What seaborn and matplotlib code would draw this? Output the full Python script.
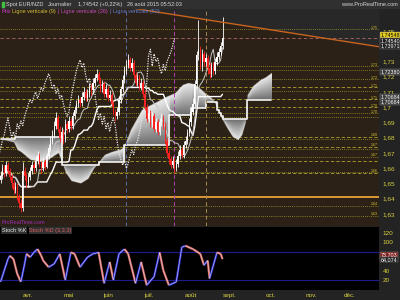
import numpy as np
import pandas as pd
import matplotlib
matplotlib.use("Agg")
import matplotlib.pyplot as plt
import matplotlib.transforms as mtrans
from matplotlib.collections import LineCollection
import seaborn as sns

sns.set_style("dark")
plt.rcParams['font.family'] = ['Liberation Sans Narrow', 'Liberation Sans', 'DejaVu Sans']

# ---------------- data ----------------
first_open = 1.652
close = [1.655, 1.660, 1.657, 1.662, 1.658, 1.654, 1.650, 1.646, 1.648, 1.641,
         1.637, 1.634, 1.658, 1.655, 1.650, 1.654, 1.658, 1.662, 1.660, 1.665,
         1.668, 1.663, 1.660, 1.664, 1.661, 1.668, 1.673, 1.678, 1.682, 1.688,
         1.693, 1.686, 1.680, 1.684, 1.679, 1.689, 1.686, 1.691, 1.688, 1.694,
         1.698, 1.702, 1.705, 1.703, 1.707, 1.710, 1.706, 1.709, 1.713, 1.711,
         1.716, 1.719, 1.722, 1.718, 1.712, 1.715, 1.709, 1.712, 1.706, 1.708,
         1.702, 1.697, 1.694, 1.697, 1.705, 1.712, 1.718, 1.724, 1.728, 1.731,
         1.726, 1.729, 1.721, 1.716, 1.719, 1.713, 1.716, 1.709, 1.700, 1.692,
         1.696, 1.689, 1.694, 1.686, 1.690, 1.684, 1.690, 1.693, 1.688, 1.678,
         1.670, 1.666, 1.662, 1.665, 1.660, 1.663, 1.668, 1.672, 1.669, 1.675,
         1.678, 1.683, 1.690, 1.697, 1.702, 1.715, 1.734, 1.738, 1.727, 1.735,
         1.730, 1.732, 1.726, 1.722, 1.728, 1.724, 1.730, 1.733, 1.736, 1.740,
         1.7454]
high = [1.658, 1.663, 1.662, 1.665, 1.664, 1.660, 1.656, 1.652, 1.651, 1.650,
        1.643, 1.640, 1.664, 1.661, 1.657, 1.657, 1.661, 1.665, 1.664, 1.668,
        1.671, 1.670, 1.665, 1.667, 1.666, 1.670, 1.676, 1.681, 1.685, 1.691,
        1.697, 1.695, 1.688, 1.687, 1.686, 1.692, 1.691, 1.694, 1.693, 1.697,
        1.701, 1.705, 1.708, 1.707, 1.710, 1.713, 1.712, 1.712, 1.716, 1.715,
        1.719, 1.722, 1.725, 1.724, 1.720, 1.718, 1.717, 1.715, 1.714, 1.711,
        1.710, 1.704, 1.699, 1.700, 1.707, 1.714, 1.721, 1.727, 1.731, 1.735,
        1.733, 1.732, 1.731, 1.723, 1.722, 1.721, 1.719, 1.718, 1.711, 1.702,
        1.699, 1.698, 1.697, 1.696, 1.693, 1.692, 1.693, 1.696, 1.695, 1.690,
        1.680, 1.672, 1.668, 1.668, 1.667, 1.666, 1.671, 1.675, 1.674, 1.678,
        1.681, 1.686, 1.693, 1.700, 1.706, 1.718, 1.737, 1.757, 1.740, 1.738,
        1.737, 1.735, 1.734, 1.729, 1.730, 1.730, 1.732, 1.736, 1.739, 1.743,
        1.759]
low = [1.650, 1.653, 1.654, 1.655, 1.656, 1.652, 1.647, 1.643, 1.644, 1.639,
       1.634, 1.631, 1.632, 1.652, 1.647, 1.648, 1.652, 1.656, 1.657, 1.658,
       1.663, 1.661, 1.657, 1.658, 1.659, 1.660, 1.666, 1.671, 1.676, 1.680,
       1.686, 1.684, 1.677, 1.678, 1.676, 1.677, 1.683, 1.684, 1.685, 1.686,
       1.692, 1.696, 1.700, 1.700, 1.701, 1.705, 1.704, 1.704, 1.707, 1.708,
       1.709, 1.714, 1.717, 1.716, 1.710, 1.710, 1.707, 1.707, 1.704, 1.704,
       1.700, 1.695, 1.691, 1.692, 1.695, 1.703, 1.710, 1.716, 1.722, 1.726,
       1.724, 1.724, 1.719, 1.714, 1.714, 1.711, 1.711, 1.707, 1.698, 1.690,
       1.690, 1.687, 1.687, 1.684, 1.684, 1.682, 1.682, 1.688, 1.686, 1.676,
       1.668, 1.663, 1.660, 1.660, 1.657, 1.658, 1.661, 1.666, 1.667, 1.667,
       1.673, 1.676, 1.681, 1.688, 1.695, 1.700, 1.713, 1.731, 1.725, 1.724,
       1.727, 1.727, 1.722, 1.719, 1.720, 1.721, 1.722, 1.728, 1.731, 1.734,
       1.738]

# Ichimoku cloud spans (bar index, price)
span_a_bar = [0, 7, 9, 11, 16, 22, 27, 31, 33, 35, 38, 43, 47, 50, 53, 56, 60, 64,
              66, 68, 70, 73, 76, 79, 84, 89, 94, 98, 101, 104, 107, 110, 113,
              115, 117, 119, 122, 125, 128, 130, 132, 133, 136, 140, 143, 146]
span_a = [1.679, 1.677, 1.672, 1.6705, 1.6654, 1.6641, 1.6667, 1.670, 1.664,
          1.657, 1.6516, 1.650, 1.653, 1.6595, 1.6641, 1.6687, 1.6707, 1.672,
          1.6733, 1.6785, 1.685, 1.6916, 1.6982, 1.7002, 1.7034, 1.7067, 1.7093,
          1.7146, 1.7159, 1.7152, 1.7126, 1.7093, 1.7067, 1.7040, 1.6990, 1.693,
          1.6864, 1.6805, 1.6785, 1.6818, 1.6903, 1.708, 1.7139, 1.7179, 1.7198,
          1.7225]
span_b_bar = [0, 8, 33, 53, 67, 91, 103, 111, 117, 118, 119, 120, 133, 146]
span_b = [1.679, 1.6805, 1.6621, 1.6641, 1.6752, 1.6949, 1.6995, 1.7035, 1.6985,
          1.6960, 1.6940, 1.6923, 1.7048, 1.7048]

# user drawn levels
levels_dotted = [1.7511, 1.7270, 1.7244, 1.7183, 1.7109, 1.6960, 1.6938, 1.6790,
                 1.6726, 1.6674, 1.6573, 1.6352, 1.6287]
levels_dashed = [1.7131, 1.7052, 1.6999, 1.6805, 1.6741, 1.6648, 1.6569]
level_price = 1.7452
level_support = 1.6413
trend_bar = [66, 204.6]
trend_price = [1.7660, 1.7397]
vline_offsets = [9, 26, 52]

# stochastic (bar index, value)
stoch_bar = [0, 4, 5, 7, 9, 11, 13, 14, 16, 18, 20, 22, 23, 26, 29, 32, 35, 38, 40,
             43, 47, 50, 53, 56, 59, 61, 64, 67, 69, 73, 76, 79, 83, 86, 88, 91,
             95, 98, 100, 104, 108, 110, 112, 113, 117, 119, 120]
stoch_k = [17, 65, 72, 65, 34, 17, 55, 76, 69, 79, 86, 72, 62, 48, 55, 76, 21, 79,
           76, 48, 69, 76, 79, 14, 59, 21, 76, 86, 76, 14, 59, 10, 28, 79, 41, 10,
           17, 90, 93, 86, 76, 52, 62, 24, 79, 76, 65]

price_ticks = [1.75, 1.73, 1.72, 1.71, 1.70, 1.69, 1.68, 1.67, 1.66, 1.65, 1.64, 1.63]
price_tick_labels = ["1,75", "1,73", "1,72", "1,71", "1,7", "1,69", "1,68", "1,67",
                     "1,66", "1,65", "1,64", "1,63"]
stoch_ticks = [120, 100, 40, 20]
month_labels = ["avr.", "mai", "juin", "juil.", "août", "sept.", "oct.", "nov.", "déc."]
price_tags = [(1.7474, "1,74548", "#e8d020", "#000000"),
              (1.7436, "1,74540", "#1e1e1e", "#ffffff"),
              (1.7402, "1,73971", "#1e1e1e", "#ffffff"),
              (1.7231, "1,72380", "#3a3a3a", "#ffffff"),
              (1.7068, "1,70684", "#3a3a3a", "#ffffff"),
              (1.7035, "1,70684", "#3a3a3a", "#ffffff")]
stoch_tags = [(73.7, "73,703", "#802020", "#ffffff"),
              (64.1, "64,074", "#1e1e1e", "#ffffff")]
title_parts = [("Spot EUR/NZD", "#d8d8d8"), ("Journalier", "#d8d8d8"),
               ("1,74542 (+0,22%)", "#d8d8d8"), ("26 août 2015 05:52:03", "#d8d8d8")]
legend_parts = [("Prix", "#d040d0"), ("Ligne verticale (9)", "#d0c040"),
                ("| Ligne verticale (26)", "#c050c0"), ("| Ligne verticale (52)", "#6080d8")]

# ---------------- derived frame ----------------
dates = pd.bdate_range("2015-03-11", "2015-12-31")
n = len(close)
df = pd.DataFrame({"bar": np.arange(n), "close": close, "high": high, "low": low})
df["open"] = [first_open] + close[:-1]
df["tenkan"] = (df["high"].rolling(9, min_periods=1).max() + df["low"].rolling(9, min_periods=1).min()) / 2
df["kijun"] = (df["high"].rolling(26, min_periods=1).max() + df["low"].rolling(26, min_periods=1).min()) / 2
chikou = pd.DataFrame({"bar": df["bar"] - 26, "p": df["close"]})

# ---------------- figure ----------------
W, H = 400, 300
fig = plt.figure(figsize=(4, 3), dpi=100, facecolor="#232323")


def rect(x0, y0, x1, y1):
    return [x0 / W, 1 - y1 / H, (x1 - x0) / W, (y1 - y0) / H]


ax = fig.add_axes(rect(0, 8, 379, 226))
ax2 = fig.add_axes(rect(0, 227, 379, 290), sharex=ax)
ylo, yhi = 1.6221, 1.7651
xlo, xhi = -0.3, 204.6
ax.set_xlim(xlo, xhi)
ax.set_ylim(ylo, yhi)
ax.set_facecolor("#2c2116")
ax.grid(False)
for s in ax.spines.values():
    s.set_visible(False)

# gray zone above trend line
tk = np.array(trend_bar)
tp = np.array(trend_price)
ax.fill_between(tk, tp, yhi + 0.01, color="#282828", zorder=0.5, lw=0)
ax.plot(tk, tp, color="#c8641e", lw=1.0, zorder=6)

# levels
for p in levels_dotted:
    ax.axhline(p, color="#a09828", lw=0.6, ls=(0, (1, 1.5)), zorder=1)
for p in levels_dashed:
    ax.axhline(p, color="#b0a42a", lw=0.6, ls=(0, (4, 2.5)), zorder=1)
ax.axhline(level_price, color="#b06868", lw=0.6, ls=(0, (4, 3)), zorder=1)
ax.axhline(level_support, color="#e8a038", lw=1.3, zorder=2)
# little level markers at the right inner edge (skip ones that would collide)
ytr = mtrans.blended_transform_factory(ax.transAxes, ax.transData)
prev = None
for p in sorted(levels_dotted + levels_dashed, reverse=True):
    if prev is not None and prev - p < 0.0032:
        continue
    ax.text(0.997, p, ("%.2f" % p).replace(".", ","), transform=ytr,
            fontsize=2.6, color="#d8c830", ha="right", va="bottom", zorder=7)
    prev = p

# cloud with gradient
kk = np.linspace(0, max(span_a_bar), 900)
pp = np.linspace(ylo, yhi, 700)
A = np.interp(kk, span_a_bar, span_a)
idx = np.searchsorted(span_b_bar, kk, side="right") - 1
B = np.array(span_b)[idx]
KK, PP = np.meshgrid(kk, pp)
AA = np.broadcast_to(A, KK.shape)
BB = np.broadcast_to(B, KK.shape)
inside = (PP >= np.minimum(AA, BB)) & (PP <= np.maximum(AA, BB))
den = np.where(np.abs(AA - BB) < 1e-6, 1e-6, AA - BB)
t = np.clip((PP - BB) / den, 0, 1)
g = 0.42 + 0.5 * t
img = np.zeros(KK.shape + (4,))
img[..., 0] = g
img[..., 1] = g
img[..., 2] = g
img[..., 3] = inside.astype(float)
ax.imshow(img, extent=[kk[0], kk[-1], ylo, yhi], origin="lower", aspect="auto",
          interpolation="bilinear", zorder=2)
ax.step(span_b_bar, span_b, where="post", color="#f4f4f4", lw=1.2, zorder=3)

# vertical lines
last = n - 1
for off, col in zip(vline_offsets, ["#a88a50", "#b040b0", "#5a6ea8"]):
    ax.axvline(last - off, color=col, lw=0.7, ls=(0, (4, 3)), zorder=3)

# ichimoku lines
sns.lineplot(data=df, x="bar", y="kijun", ax=ax, color="#ffffff", lw=1.0, zorder=4)
sns.lineplot(data=df, x="bar", y="tenkan", ax=ax, color="#c8c8c8", lw=0.7, zorder=4)
sns.lineplot(data=chikou, x="bar", y="p", ax=ax, color="#e8e8e8", lw=0.9,
             ls=(0, (1, 1)), zorder=4)

# candles
up = df["close"] >= df["open"]
colors = np.where(up, "#ffffff", "#ff2020")
ax.vlines(df["bar"], df["low"], df["high"], colors=colors, lw=0.6, zorder=5)
body = (df["close"] - df["open"]).where(lambda s: s.abs() > 0.0006, 0.0006)
ax.bar(df["bar"], body, bottom=df["open"], width=0.72, color=colors, lw=0, zorder=5)

ax.set_xlabel("")
ax.set_ylabel("")
ax.yaxis.tick_right()
ax.set_yticks(price_ticks)
ax.set_yticklabels(price_tick_labels)
ax.tick_params(axis="y", length=0, pad=2.5, labelsize=4.6, labelcolor="#d8d040")
ax.tick_params(axis="x", bottom=False, labelbottom=False)

for p, s, bg, fg in price_tags:
    ax.text(1.004, p, s, transform=ytr, fontsize=3.9, color=fg, va="center", ha="left",
            bbox=dict(boxstyle="square,pad=0.08", fc=bg, ec="#888888", lw=0.3), zorder=10,
            clip_on=False)

ax.text(0.004, 0.004, "ProRealTime.com", transform=ax.transAxes, fontsize=4.0,
        color="#a030b0", va="bottom", ha="left")

fig.patches.append(plt.Rectangle((0, 1 - 8 / H), 1, 8 / H, transform=fig.transFigure,
                                 color="#303030", zorder=0))
fig.patches.append(plt.Rectangle((2 / W, 1 - 7 / H), 2 / W, 5 / H, transform=fig.transFigure,
                                 color="#40c040", zorder=1))
fig.text(398 / W, 1 - 4.2 / H, "www.ProRealTime.com", fontsize=4.0, color="#d8d8d8",
         va="center", ha="right")

# ---------------- stochastic panel ----------------
ax2.set_facecolor("#000000")
ax2.set_ylim(-0.1, 132.5)
ax2.grid(False)
for s in ax2.spines.values():
    s.set_visible(False)
ax2.axhline(80, color="#1c1c8c", lw=0.8, zorder=1)
ax2.axhline(20, color="#1c1c8c", lw=0.8, zorder=1)
sb = np.array(stoch_bar, float)
sv = np.array(stoch_k, float)
segs = [[(sb[i], sv[i]), (sb[i + 1], sv[i + 1])] for i in range(len(sb) - 1)]
segcol = ["#3030e0" if sv[i + 1] >= sv[i] else "#e06868" for i in range(len(sb) - 1)]
ax2.add_collection(LineCollection(segs, colors=segcol, lw=1.6, zorder=2))
st = pd.DataFrame({"bar": stoch_bar, "k": stoch_k})
sns.lineplot(data=st, x="bar", y="k", ax=ax2, color="#d8d8d8", lw=0.4, zorder=3)
ax2.set_xlabel("")
ax2.set_ylabel("")
ax2.yaxis.tick_right()
ax2.set_yticks(stoch_ticks)
ax2.set_yticklabels([str(v) for v in stoch_ticks])
ax2.tick_params(axis="y", length=0, pad=2.5, labelsize=4.6, labelcolor="#d8d040")
month_pos = [int(np.argmax((dates.month == m) & (dates.year == 2015))) for m in range(4, 13)]
ax2.set_xticks(month_pos)
ax2.set_xticklabels(month_labels)
ax2.tick_params(axis="x", length=0, pad=2.0, labelsize=4.6, labelcolor="#d8d040")
ax2.set_xlim(xlo, xhi)
ytr2 = mtrans.blended_transform_factory(ax2.transAxes, ax2.transData)
for v, s, bg, fg in stoch_tags:
    ax2.text(1.004, v, s, transform=ytr2, fontsize=3.9, color=fg, va="center", ha="left",
             bbox=dict(boxstyle="square,pad=0.08", fc=bg, ec="#888888", lw=0.3), zorder=10,
             clip_on=False)

# chained header texts (measured so they do not overlap)
fig.canvas.draw()
rend = fig.canvas.get_renderer()


def chain(parts, x0, ypix, gap, size, box=None):
    x = x0
    for s, c in parts:
        kw = {}
        if box:
            kw["bbox"] = dict(boxstyle="square,pad=0.1", fc=box, ec="none")
        tt = fig.text(x / W, 1 - ypix / H, s, fontsize=size, color=c, va="center",
                      ha="left", **kw)
        bb = tt.get_window_extent(rend)
        x = bb.x1 + gap


chain(title_parts, 6, 4.2, 5, 4.0)
chain(legend_parts, 1, 11.5, 2, 4.0)
chain([("Stoch %K", "#e8e8e8"), ("Stoch %D (3,3,3)", "#e06060")], 2, 230.5, 3, 4.0,
      box="#303030")

fig.savefig("out.png", dpi=100, facecolor=fig.get_facecolor())
